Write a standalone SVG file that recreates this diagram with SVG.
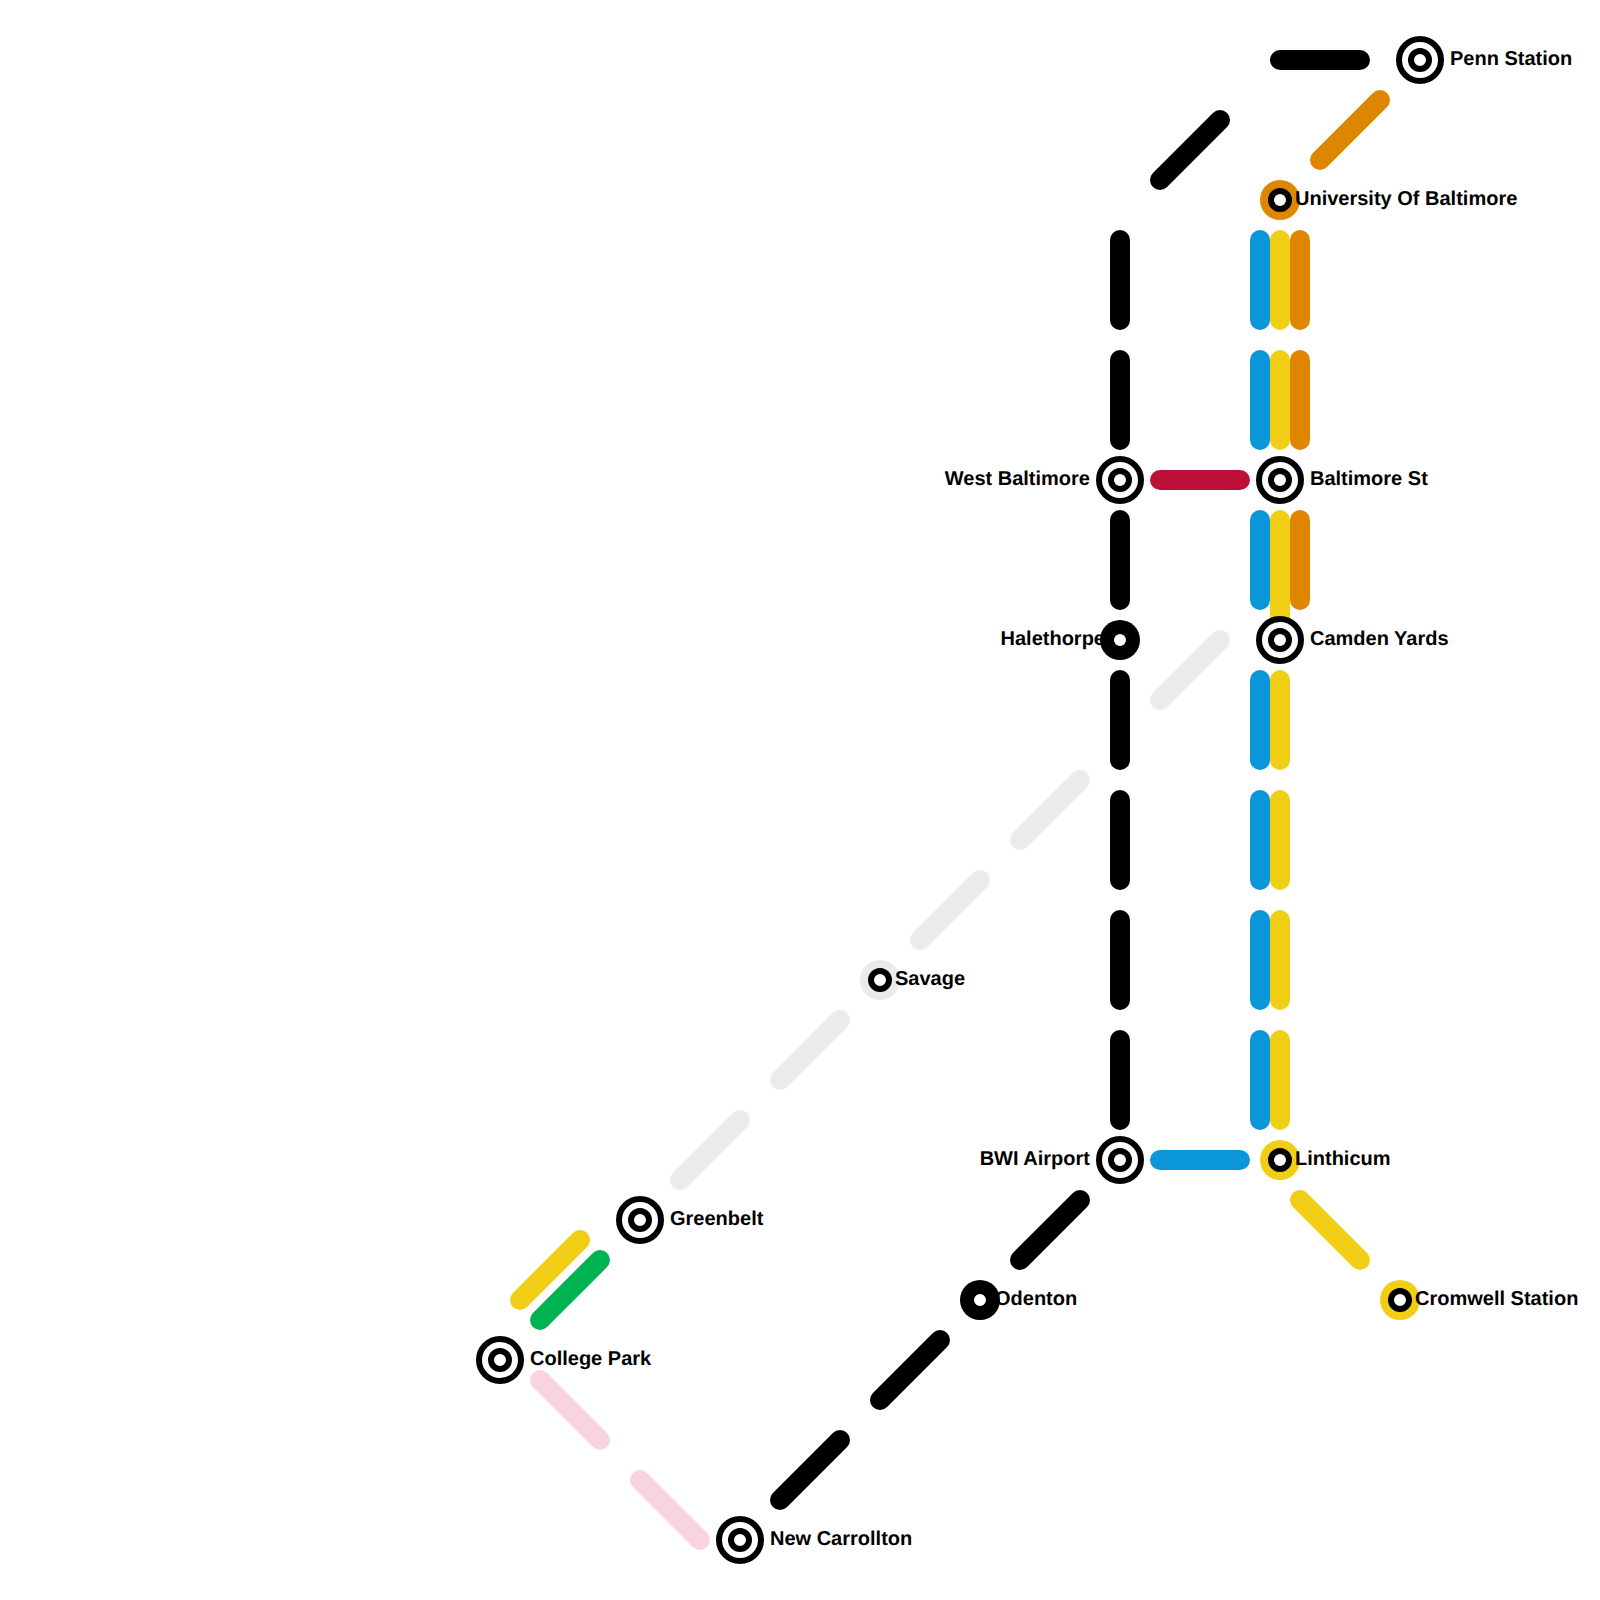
<svg xmlns="http://www.w3.org/2000/svg" width="1600" height="1600" viewBox="0 0 1600 1600">
<style>
.l{fill:none;stroke-width:20;stroke-linecap:round}
.k{stroke:#000}.b{stroke:#0a96d8}.y{stroke:#f0ce15}.o{stroke:#df8600}.r{stroke:#bd1038}.g{stroke:#00b251}.e{stroke:#ebebeb}.p{stroke:#f9d3e0}
.ro{fill:#fff;stroke:#000;stroke-width:6}
.in{fill:#fff;stroke:#000;stroke-width:6}
text{font-family:"Liberation Sans",Arial,sans-serif;font-size:20px;font-weight:700;fill:#000;text-rendering:geometricPrecision}
.end{text-anchor:end}
</style>
<defs>
<g id="big"><circle r="21" class="ro"/><circle r="9" class="in"/></g>
<g id="small"><circle r="9" class="in"/></g>
</defs>
<g id="connectors">
<path class="l k" d="M1280 60H1360M1160 180L1220 120M1120 240V320M1120 360V440M1120 520V600M1120 680V760M1120 800V880M1120 920V1000M1120 1040V1120M1080 1200L1020 1260M940 1340L880 1400M840 1440L780 1500"/>
<path class="l o" d="M1320 160L1380 100M1300 240V320M1300 360V440M1300 520V600"/>
<path class="l b" d="M1260 240V320M1260 360V440M1260 520V600M1260 680V760M1260 800V880M1260 920V1000M1260 1040V1120M1160 1160H1240"/>
<path class="l y" d="M1280 240V320M1280 360V440M1280 520V620M1280 680V760M1280 800V880M1280 920V1000M1280 1040V1120M1300 1200L1360 1260M520 1300L580 1240"/>
<path class="l r" d="M1160 480H1240"/>
<path class="l g" d="M540 1320L600 1260"/>
<path class="l e" d="M680 1180L740 1120M780 1080L840 1020M920 940L980 880M1020 840L1080 780M1160 700L1220 640"/>
<path class="l p" d="M540 1380L600 1440M640 1480L700 1540"/>
</g>
<g id="penn-station"><use href="#big" x="1420" y="60"/><text x="1450" y="65">Penn Station</text></g>
<g id="university-of-baltimore"><circle cx="1280" cy="200" r="20" fill="#df8600"/><use href="#small" x="1280" y="200"/><text x="1295" y="205">University Of Baltimore</text></g>
<g id="west-baltimore"><use href="#big" x="1120" y="480"/><text class="end" x="1090" y="485">West Baltimore</text></g>
<g id="baltimore-st"><use href="#big" x="1280" y="480"/><text x="1310" y="485">Baltimore St</text></g>
<g id="halethorpe"><circle cx="1120" cy="640" r="20" fill="#000"/><use href="#small" x="1120" y="640"/><text class="end" x="1105" y="645">Halethorpe</text></g>
<g id="camden-yards"><use href="#big" x="1280" y="640"/><text x="1310" y="645">Camden Yards</text></g>
<g id="savage"><circle cx="880" cy="980" r="20" fill="#ebebeb"/><use href="#small" x="880" y="980"/><text x="895" y="985">Savage</text></g>
<g id="bwi-airport"><use href="#big" x="1120" y="1160"/><text class="end" x="1090" y="1165">BWI Airport</text></g>
<g id="linthicum"><circle cx="1280" cy="1160" r="20" fill="#f0ce15"/><use href="#small" x="1280" y="1160"/><text x="1295" y="1165">Linthicum</text></g>
<g id="cromwell-station"><circle cx="1400" cy="1300" r="20" fill="#f0ce15"/><use href="#small" x="1400" y="1300"/><text x="1415" y="1305">Cromwell Station</text></g>
<g id="odenton"><circle cx="980" cy="1300" r="20" fill="#000"/><use href="#small" x="980" y="1300"/><text x="995" y="1305">Odenton</text></g>
<g id="greenbelt"><use href="#big" x="640" y="1220"/><text x="670" y="1225">Greenbelt</text></g>
<g id="college-park"><use href="#big" x="500" y="1360"/><text x="530" y="1365">College Park</text></g>
<g id="new-carrollton"><use href="#big" x="740" y="1540"/><text x="770" y="1545">New Carrollton</text></g>
</svg>
